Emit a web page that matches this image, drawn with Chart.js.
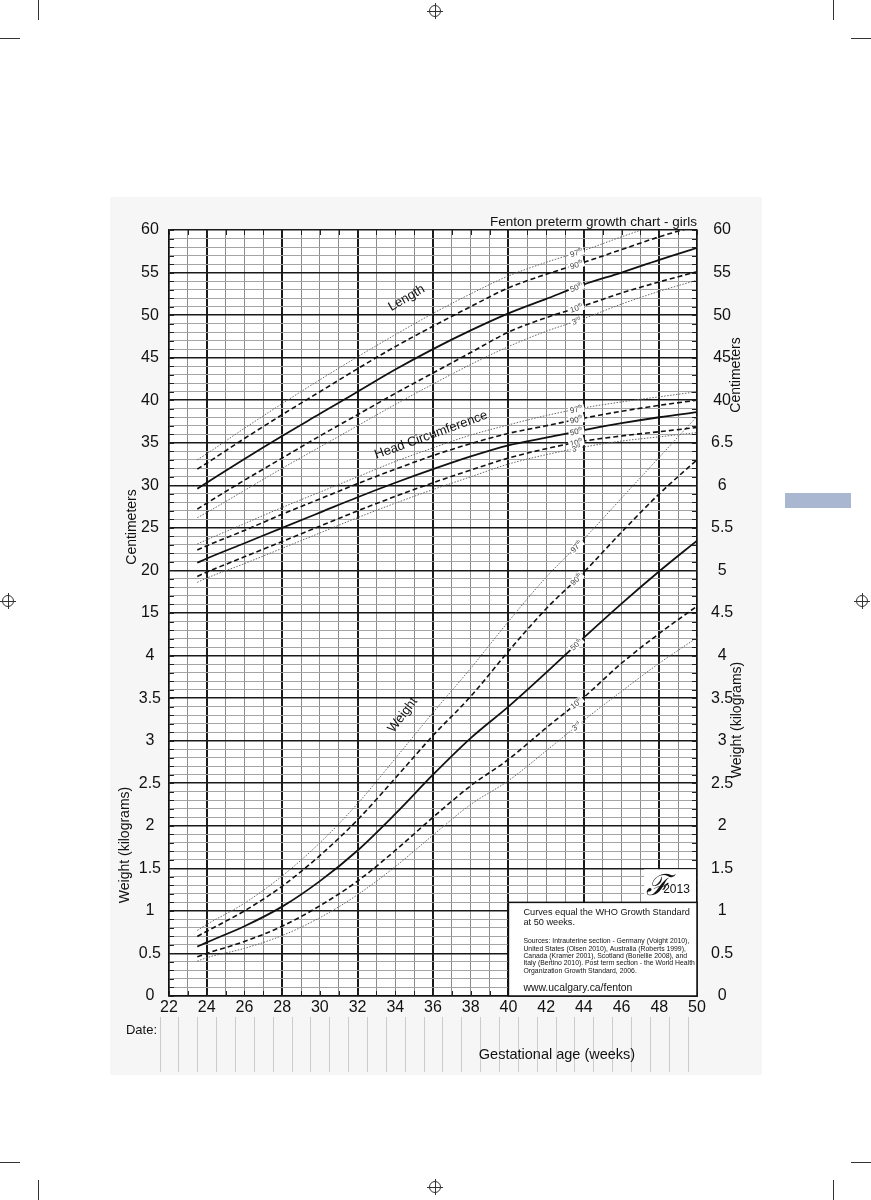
<!DOCTYPE html>
<html>
<head>
<meta charset="utf-8">
<script src="https://cdn.jsdelivr.net/npm/chart.js@4.4.0/dist/chart.umd.min.js"></script>
<style>
  html, body { margin: 0; padding: 0; background: #fff; }
  #page { position: relative; width: 871px; height: 1200px; overflow: hidden; }
  #panel { position: absolute; left: 110px; top: 197px; width: 652px; height: 878px; background: #f6f6f6; }
  #growth { position: absolute; left: 0; top: 0; }
  .ln { position: absolute; background: #333; }
  .reg { position: absolute; width: 10px; height: 10px; border: 1px solid #333; border-radius: 50%; }
  .tab { position: absolute; left: 785px; top: 493px; width: 66px; height: 15px; background: #a9b7d0; }
</style>
</head>
<body>
<div id="page">
  <div id="panel"></div>
  <div class="tab"></div>
  <!-- crop marks -->
  <div class="ln" style="left:38px;top:0;width:1px;height:20px"></div>
  <div class="ln" style="left:0;top:38px;width:20px;height:1px"></div>
  <div class="ln" style="left:833px;top:0;width:1px;height:20px"></div>
  <div class="ln" style="left:851px;top:38px;width:20px;height:1px"></div>
  <div class="ln" style="left:38px;top:1180px;width:1px;height:20px"></div>
  <div class="ln" style="left:0;top:1162px;width:20px;height:1px"></div>
  <div class="ln" style="left:833px;top:1180px;width:1px;height:20px"></div>
  <div class="ln" style="left:851px;top:1162px;width:20px;height:1px"></div>
  <!-- registration marks -->
  <div class="reg" style="left:429px;top:5px"></div>
  <div class="ln" style="left:427px;top:11px;width:16px;height:1px"></div>
  <div class="ln" style="left:435px;top:3px;width:1px;height:16px"></div>
  <div class="reg" style="left:429px;top:1181px"></div>
  <div class="ln" style="left:427px;top:1187px;width:16px;height:1px"></div>
  <div class="ln" style="left:435px;top:1179px;width:1px;height:16px"></div>
  <div class="reg" style="left:2px;top:595px"></div>
  <div class="ln" style="left:0;top:601px;width:16px;height:1px"></div>
  <div class="ln" style="left:8px;top:593px;width:1px;height:16px"></div>
  <div class="reg" style="left:856px;top:595px"></div>
  <div class="ln" style="left:854px;top:601px;width:16px;height:1px"></div>
  <div class="ln" style="left:862px;top:593px;width:1px;height:16px"></div>
  <canvas id="growth" width="871" height="1200"></canvas>
</div>
<script>
(function () {
    "use strict";

    // gestational age (weeks) of the curve points
    const weeks = [23.5, 24, 26, 28, 30, 32, 34, 36, 38, 40, 42, 44, 46, 48, 50];

    // weight percentiles (kg)
    const weight3  = [0.41, 0.45, 0.56, 0.71, 0.92, 1.19, 1.52, 1.89, 2.25, 2.53, 2.88, 3.24, 3.58, 3.91, 4.21];
    const weight10 = [0.46, 0.50, 0.64, 0.82, 1.06, 1.35, 1.71, 2.10, 2.47, 2.78, 3.15, 3.51, 3.91, 4.26, 4.58];
    const weight50 = [0.58, 0.63, 0.82, 1.05, 1.35, 1.71, 2.14, 2.60, 3.03, 3.40, 3.80, 4.21, 4.61, 4.99, 5.35];
    const weight90 = [0.70, 0.76, 1.00, 1.29, 1.65, 2.07, 2.56, 3.06, 3.52, 4.05, 4.55, 4.98, 5.45, 5.90, 6.30];
    const weight97 = [0.77, 0.84, 1.09, 1.41, 1.80, 2.26, 2.79, 3.33, 3.85, 4.40, 4.92, 5.37, 5.85, 6.33, 6.81];

    // length percentiles (cm)
    const length3  = [26.2, 26.8, 29.4, 32.0, 34.5, 37.0, 39.5, 41.9, 44.2, 46.3, 48.1, 49.6, 51.3, 52.8, 54.1];
    const length10 = [27.2, 27.9, 30.6, 33.2, 35.8, 38.3, 40.8, 43.2, 45.6, 48.0, 49.7, 51.1, 52.6, 53.9, 55.1];
    const length50 = [29.6, 30.3, 33.1, 35.8, 38.4, 41.0, 43.6, 46.0, 48.2, 50.2, 51.9, 53.6, 55.0, 56.5, 57.9];
    const length90 = [31.9, 32.6, 35.5, 38.3, 41.0, 43.7, 46.3, 48.7, 51.0, 53.2, 54.8, 56.2, 57.7, 59.2, 60.5];
    const length97 = [33.0, 33.7, 36.7, 39.6, 42.4, 45.1, 47.7, 50.2, 52.5, 54.6, 56.2, 57.6, 59.2, 60.7, 62.0];

    // head circumference percentiles (cm)
    const head3  = [18.6, 19.1, 20.8, 22.6, 24.4, 26.2, 27.9, 29.5, 31.0, 32.5, 33.6, 34.5, 35.2, 35.7, 36.2];
    const head10 = [19.3, 19.8, 21.6, 23.4, 25.2, 27.0, 28.7, 30.3, 31.8, 33.2, 34.3, 35.2, 35.8, 36.3, 36.8];
    const head50 = [20.9, 21.4, 23.2, 25.0, 26.8, 28.6, 30.3, 31.9, 33.4, 34.7, 35.6, 36.5, 37.3, 38.0, 38.6];
    const head90 = [22.4, 22.9, 24.7, 26.6, 28.4, 30.2, 31.9, 33.5, 34.9, 36.1, 37.0, 37.9, 38.7, 39.4, 40.0];
    const head97 = [23.1, 23.6, 25.5, 27.4, 29.2, 31.0, 32.8, 34.4, 35.9, 37.1, 38.2, 39.1, 39.8, 40.4, 41.0];

    const percentiles = ['97', '90', '50', '10', '3'];
    const xTicks = [22, 24, 26, 28, 30, 32, 34, 36, 38, 40, 42, 44, 46, 48, 50];

    // the grid is one scale in weight units (0.5 kg per big square);
    // centimetres share it: 15 cm sits on 4.5, 60 cm on 9
    const cmToUnit = cm => cm / 10 + 3;
    const unitToCm = u => Math.round((u - 3) * 10);

    const FONT = '"Liberation Sans", Arial, sans-serif';

    function pts(values, conv) {
        return weeks.map((w, i) => ({ x: w, y: conv ? conv(values[i]) : values[i] }));
    }

    function lineStyle(p) {
        if (p === '50') return { borderColor: '#111', borderWidth: 1.8, borderDash: [] };
        if (p === '10' || p === '90') return { borderColor: '#111', borderWidth: 1.6, borderDash: [5, 3] };
        return { borderColor: '#666', borderWidth: 1, borderDash: [1.5, 1.5] };
    }

    const groups = [
        { name: 'Length', series: [length97, length90, length50, length10, length3], conv: cmToUnit },
        { name: 'Head Circumference', series: [head97, head90, head50, head10, head3], conv: cmToUnit },
        { name: 'Weight', series: [weight97, weight90, weight50, weight10, weight3], conv: null }
    ];

    let datasets = [];
    groups.forEach(g => {
        g.series.forEach((s, k) => {
            datasets.push(Object.assign({
                label: g.name + ' ' + percentiles[k],
                pct: percentiles[k],
                data: pts(s, g.conv),
                pointRadius: 0,
                fill: false,
                cubicInterpolationMode: 'monotone',
                clip: 0
            }, lineStyle(percentiles[k])));
        });
    });

    const isMajor = v => Math.abs(v * 2 - Math.round(v * 2)) < 1e-6;
    const fmt = v => String(Math.round(v * 10) / 10);

    // short ticks, boxes, labels and texts around the grid
    const decorations = {
        id: 'decorations',
        beforeDraw(chart) {
            const a = chart.chartArea;
            chart.ctx.save();
            chart.ctx.fillStyle = '#fff';
            chart.ctx.fillRect(a.left, a.top, a.right - a.left, a.bottom - a.top);
            chart.ctx.restore();
        },
        afterDatasetsDraw(chart) {
            const c = chart.ctx;
            // percentile labels on each curve, a bit before week 44
            chart.data.datasets.forEach((ds, i) => {
                const meta = chart.getDatasetMeta(i);
                const a = meta.data[10], b = meta.data[11];
                const t = 0.8;
                const x = a.x + t * (b.x - a.x);
                const y = a.y + t * (b.y - a.y);
                if (y < chart.chartArea.top + 4) return;
                const ang = Math.atan2(b.y - a.y, b.x - a.x);
                const suf = ds.pct === '3' ? 'rd' : 'th';
                c.save();
                c.translate(x, y);
                c.rotate(ang);
                c.font = '8px ' + FONT;
                const w1 = c.measureText(ds.pct).width;
                c.font = '5px ' + FONT;
                const w2 = c.measureText(suf).width;
                const w = w1 + w2;
                c.fillStyle = '#fff';
                c.fillRect(-w / 2 - 1.5, -4, w + 3, 8);
                c.fillStyle = '#444';
                c.textBaseline = 'middle';
                c.textAlign = 'left';
                c.font = '8px ' + FONT;
                c.fillText(ds.pct, -w / 2, 0.5);
                c.font = '5px ' + FONT;
                c.fillText(suf, -w / 2 + w1, -2);
                c.restore();
            });

            // curve names
            const xs = chart.scales.x, ys = chart.scales.y;
            const names = [
                { t: 'Length', wk: 34.6, u: cmToUnit(52.0), ang: -30 },
                { t: 'Head Circumference', wk: 35.9, u: cmToUnit(35.9), ang: -20 },
                { t: 'Weight', wk: 34.4, u: 3.3, ang: -53 }
            ];
            names.forEach(n => {
                c.save();
                c.translate(xs.getPixelForValue(n.wk), ys.getPixelForValue(n.u));
                c.rotate(n.ang * Math.PI / 180);
                c.font = '13px ' + FONT;
                c.fillStyle = '#111';
                c.textAlign = 'center';
                c.textBaseline = 'middle';
                c.fillText(n.t, 0, 0);
                c.restore();
            });
        },
        afterDraw(chart) {
            const c = chart.ctx;
            const a = chart.chartArea;
            const xs = chart.scales.x, ys = chart.scales.y;

            // small inward ticks on the frame
            c.save();
            c.strokeStyle = '#222';
            c.lineWidth = 1;
            ys.ticks.forEach(tk => {
                const y = Math.round(ys.getPixelForValue(tk.value)) + 0.5;
                c.beginPath();
                c.moveTo(a.left, y); c.lineTo(a.left + 5, y);
                c.moveTo(a.right, y); c.lineTo(a.right - 5, y);
                c.stroke();
            });
            xs.ticks.forEach(tk => {
                const x = Math.round(xs.getPixelForValue(tk.value)) + 0.5;
                c.beginPath();
                c.moveTo(x, a.top); c.lineTo(x, a.top + 5);
                c.moveTo(x, a.bottom); c.lineTo(x, a.bottom - 5);
                c.stroke();
            });
            c.restore();

            // info box (weeks 40-50, 0-1.1 kg) and logo box
            const bx = xs.getPixelForValue(40), by = ys.getPixelForValue(1.1);
            const lx = xs.getPixelForValue(47.2), ly = ys.getPixelForValue(1.5);
            c.save();
            c.fillStyle = '#fff';
            c.fillRect(lx, ly + 1, a.right - lx - 1, by - ly);
            c.fillRect(bx, by, a.right - bx, a.bottom - by);
            c.strokeStyle = '#111';
            c.lineWidth = 1.5;
            c.strokeRect(bx, by, a.right - bx, a.bottom - by);
            c.fillStyle = '#111';
            c.textBaseline = 'alphabetic';
            c.textAlign = 'left';
            c.font = 'italic 29px "DejaVu Serif", serif';
            c.fillText('\u2131', lx + 2, by - 7);
            c.font = '12px ' + FONT;
            c.fillText('2013', lx + 19, by - 9);

            const tx = bx + 15;
            c.font = '9.2px ' + FONT;
            c.fillText('Curves equal the WHO Growth Standard', tx, by + 13);
            c.fillText('at 50 weeks.', tx, by + 23);
            c.font = '6.85px ' + FONT;
            const src = [
                'Sources: Intrauterine section - Germany (Voight 2010),',
                'United States (Olsen 2010), Australia (Roberts 1999),',
                'Canada (Kramer 2001), Scotland (Bonellie 2008), and',
                'Italy (Bertino 2010). Post term section - the World Health',
                'Organization Growth Standard, 2006.'
            ];
            src.forEach((s, i) => c.fillText(s, tx, by + 41 + i * 7.3));
            c.font = '10.4px ' + FONT;
            c.fillText('www.ucalgary.ca/fenton', tx, by + 89);
            c.restore();

            // date row
            c.save();
            c.strokeStyle = '#cccccc';
            c.lineWidth = 1;
            for (let w = 22; w <= 50; w++) {
                const x = Math.round(xs.getPixelForValue(w - 0.5)) + 0.5;
                c.beginPath();
                c.moveTo(x, 1017); c.lineTo(x, 1072);
                c.stroke();
            }
            c.fillStyle = '#111';
            c.font = '13px ' + FONT;
            c.textAlign = 'right';
            c.textBaseline = 'middle';
            c.fillText('Date:', a.left - 12, 1030);
            c.textAlign = 'center';
            c.font = '14.5px ' + FONT;
            c.fillText('Gestational age (weeks)', 557, 1055);

            // title
            c.textAlign = 'right';
            c.textBaseline = 'alphabetic';
            c.font = '13.5px ' + FONT;
            c.fillText('Fenton preterm growth chart - girls', a.right, 226);

            // axis titles
            const vtext = (t, x, y) => {
                c.save();
                c.translate(x, y);
                c.rotate(-Math.PI / 2);
                c.textAlign = 'center';
                c.textBaseline = 'middle';
                c.font = '14px ' + FONT;
                c.fillText(t, 0, 0);
                c.restore();
            };
            vtext('Centimeters', 132, 527);
            vtext('Weight (kilograms)', 125, 845);
            vtext('Centimeters', 736, 375);
            vtext('Weight (kilograms)', 737, 720);
            c.restore();
        }
    };

    const ctx = document.getElementById('growth').getContext('2d');
    new Chart(ctx, {
        type: 'line',
        data: { datasets: datasets },
        plugins: [decorations],
        options: {
            responsive: false,
            animation: false,
            devicePixelRatio: 1,
            layout: { padding: { top: 230, left: 0, right: 0, bottom: 0 } },
            plugins: { legend: { display: false }, tooltip: { enabled: false } },
            scales: {
                x: {
                    type: 'linear',
                    min: 22,
                    max: 50,
                    afterFit: s => { s.height = 204; },
                    border: { display: true, color: '#111', width: 1.5 },
                    grid: {
                        drawTicks: false,
                        color: c => (c.tick && c.tick.value >= 24 && (c.tick.value - 24) % 4 === 0) ? '#1a1a1a' : '#8c8c8c',
                        lineWidth: c => (c.tick && c.tick.value >= 24 && (c.tick.value - 24) % 4 === 0) ? 2 : 1
                    },
                    ticks: {
                        stepSize: 1,
                        autoSkip: false,
                        maxRotation: 0,
                        padding: 2,
                        color: '#111',
                        font: { family: FONT, size: 16 },
                        callback: v => xTicks.includes(v) ? String(v) : ''
                    }
                },
                y: {
                    type: 'linear',
                    position: 'left',
                    min: 0,
                    max: 9,
                    afterFit: s => { s.width = 169; },
                    border: { display: true, color: '#111', width: 1.5 },
                    grid: {
                        drawTicks: false,
                        color: c => (c.tick && isMajor(c.tick.value)) ? '#1a1a1a' : '#a4a4a4',
                        lineWidth: c => (c.tick && isMajor(c.tick.value)) ? 1.6 : 1
                    },
                    ticks: {
                        stepSize: 0.1,
                        autoSkip: false,
                        crossAlign: 'center',
                        padding: 8,
                        color: '#111',
                        font: { family: FONT, size: 16 },
                        callback: v => {
                            if (!isMajor(v)) return '';
                            return v <= 4.01 ? fmt(v) : String(unitToCm(v));
                        }
                    }
                },
                y2: {
                    type: 'linear',
                    position: 'right',
                    min: 0,
                    max: 9,
                    afterFit: s => { s.width = 174; },
                    border: { display: true, color: '#111', width: 1.5 },
                    grid: { drawOnChartArea: false, drawTicks: false },
                    ticks: {
                        stepSize: 0.1,
                        autoSkip: false,
                        crossAlign: 'center',
                        padding: 14,
                        color: '#111',
                        font: { family: FONT, size: 16 },
                        callback: v => {
                            if (!isMajor(v)) return '';
                            return v <= 6.51 ? fmt(v) : String(unitToCm(v));
                        }
                    }
                }
            }
        }
    });
})();
</script>
</body>
</html>
